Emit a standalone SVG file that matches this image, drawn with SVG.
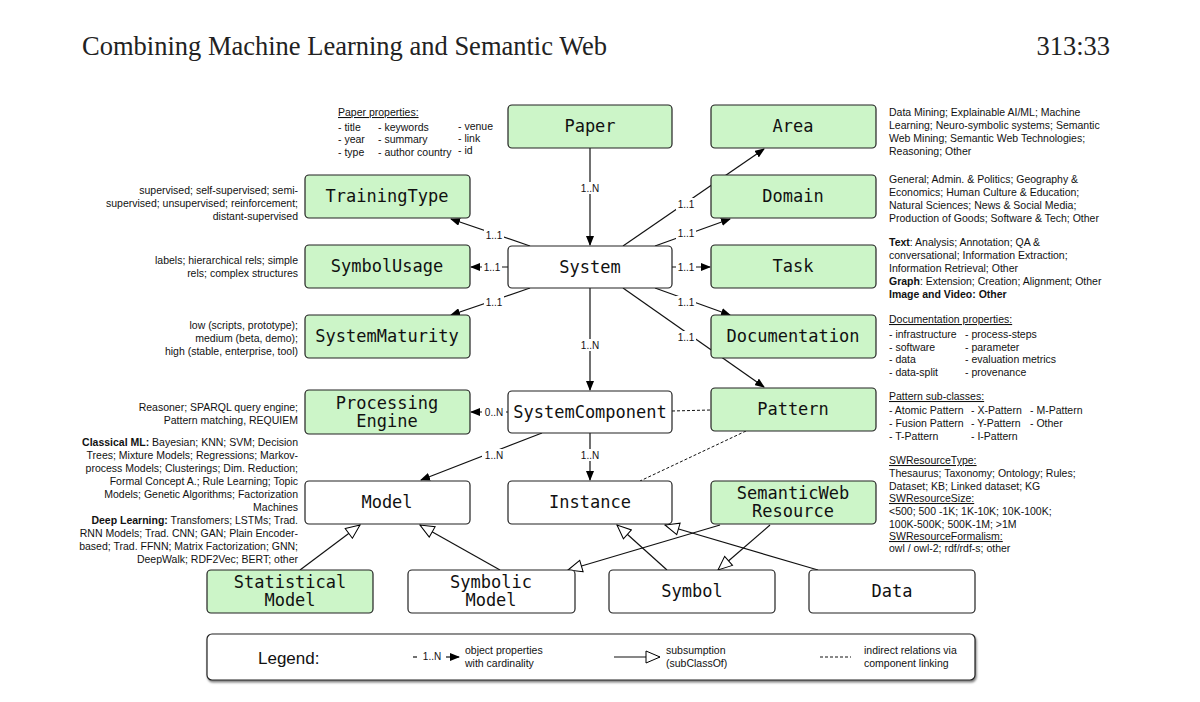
<svg xmlns="http://www.w3.org/2000/svg" width="1200" height="702" viewBox="0 0 1200 702">
<defs>
<marker id="a" markerWidth="10" markerHeight="8" refX="9" refY="4" orient="auto" markerUnits="userSpaceOnUse"><path d="M0,0 L10,4 L0,8 Z" fill="#000"/></marker>
<marker id="h" markerWidth="16" markerHeight="14" refX="15" refY="7" orient="auto" markerUnits="userSpaceOnUse"><path d="M1,1 L15,7 L1,13 Z" fill="#fff" stroke="#000" stroke-width="1"/></marker>
<filter id="sh" x="-5%" y="-20%" width="110%" height="150%"><feDropShadow dx="1" dy="2" stdDeviation="1.2" flood-opacity="0.5"/></filter>
</defs>
<style>
.g{fill:#ccf5c8;stroke:#222;stroke-width:1.2}
.w{fill:#fff;stroke:#222;stroke-width:1.2}
.n{font-family:"DejaVu Sans Mono",monospace;font-size:17px;fill:#111;text-anchor:middle}
.t{font-family:"Liberation Sans",Arial,sans-serif;font-size:10.5px;fill:#111}
.r{text-anchor:end}
.l{font-family:"Liberation Sans",Arial,sans-serif;font-size:10px;fill:#111;text-anchor:middle}
.c{stroke:#111;stroke-width:1.2;fill:none}
.d{stroke:#111;stroke-width:1;fill:none;stroke-dasharray:3,2}
.lb{fill:#fff}
</style>
<rect width="1200" height="702" fill="#fff"/>
<text x="82" y="55" font-family="Liberation Serif,serif" font-size="26.5" fill="#222">Combining Machine Learning and Semantic Web</text>
<text x="1110" y="55" font-family="Liberation Serif,serif" font-size="26.5" fill="#222" text-anchor="end">313:33</text>

<g id="connectors">
<line class="c" x1="590" y1="148" x2="590" y2="245" marker-end="url(#a)"/>
<line class="c" x1="623" y1="246" x2="764" y2="149" marker-end="url(#a)"/>
<line class="c" x1="655" y1="246" x2="730" y2="219" marker-end="url(#a)"/>
<line class="c" x1="672" y1="267" x2="710" y2="267" marker-end="url(#a)"/>
<line class="c" x1="655" y1="288" x2="730" y2="315" marker-end="url(#a)"/>
<line class="c" x1="623" y1="288" x2="764" y2="387" marker-end="url(#a)"/>
<line class="c" x1="530" y1="246" x2="451" y2="219" marker-end="url(#a)"/>
<line class="c" x1="508" y1="267" x2="471" y2="267" marker-end="url(#a)"/>
<line class="c" x1="530" y1="288" x2="451" y2="315" marker-end="url(#a)"/>
<line class="c" x1="590" y1="288" x2="590" y2="390" marker-end="url(#a)"/>
<line class="c" x1="508" y1="412" x2="471" y2="412" marker-end="url(#a)"/>
<line class="c" x1="542" y1="433" x2="421" y2="480" marker-end="url(#a)"/>
<line class="c" x1="590" y1="433" x2="590" y2="480" marker-end="url(#a)"/>
<line class="d" x1="672" y1="411" x2="711" y2="410"/>
<line class="d" x1="746" y1="431" x2="640" y2="481"/>
<line class="c" x1="300" y1="570" x2="360" y2="525" marker-end="url(#h)"/>
<line class="c" x1="500" y1="570" x2="420" y2="525" marker-end="url(#h)"/>
<line class="c" x1="667" y1="570" x2="617" y2="525" marker-end="url(#h)"/>
<line class="c" x1="818" y1="570" x2="665" y2="525" marker-end="url(#h)"/>
<line class="c" x1="720" y1="525" x2="568" y2="570" marker-end="url(#h)"/>
<line class="c" x1="770" y1="525" x2="718" y2="570" marker-end="url(#h)"/>
<g>
<rect class="lb" x="578" y="182" width="24" height="12"/><text class="l" x="590" y="192">1..N</text>
<rect class="lb" x="676" y="198" width="20" height="12"/><text class="l" x="686" y="208">1..1</text>
<rect class="lb" x="676" y="227" width="20" height="12"/><text class="l" x="686" y="237">1..1</text>
<rect class="lb" x="676" y="261" width="20" height="12"/><text class="l" x="686" y="271">1..1</text>
<rect class="lb" x="676" y="296" width="20" height="12"/><text class="l" x="686" y="306">1..1</text>
<rect class="lb" x="676" y="331" width="20" height="12"/><text class="l" x="686" y="341">1..1</text>
<rect class="lb" x="484" y="229" width="20" height="12"/><text class="l" x="494" y="239">1..1</text>
<rect class="lb" x="482" y="261" width="20" height="12"/><text class="l" x="492" y="271">1..1</text>
<rect class="lb" x="484" y="296" width="20" height="12"/><text class="l" x="494" y="306">1..1</text>
<rect class="lb" x="578" y="339" width="24" height="12"/><text class="l" x="590" y="349">1..N</text>
<rect class="lb" x="482" y="406" width="24" height="12"/><text class="l" x="494" y="416">0..N</text>
<rect class="lb" x="482" y="449" width="24" height="12"/><text class="l" x="494" y="459">1..N</text>
<rect class="lb" x="578" y="449" width="24" height="12"/><text class="l" x="590" y="459">1..N</text>
</g>
</g>

<g id="Paper"><rect class="g" x="508" y="105" width="164" height="43" rx="4"/><text class="n" x="590" y="132">Paper</text></g>
<g id="Area"><rect class="g" x="711" y="105" width="165" height="43" rx="4"/><text class="n" x="793" y="132">Area</text></g>
<g id="TrainingType"><rect class="g" x="305" y="175" width="165" height="43" rx="4"/><text class="n" x="387" y="202">TrainingType</text></g>
<g id="Domain"><rect class="g" x="711" y="175" width="165" height="43" rx="4"/><text class="n" x="793" y="202">Domain</text></g>
<g id="SymbolUsage"><rect class="g" x="305" y="245" width="165" height="43" rx="4"/><text class="n" x="387" y="272">SymbolUsage</text></g>
<g id="System"><rect class="w" x="508" y="246" width="164" height="42" rx="4"/><text class="n" x="590" y="273">System</text></g>
<g id="Task"><rect class="g" x="711" y="245" width="165" height="43" rx="4"/><text class="n" x="793" y="272">Task</text></g>
<g id="SystemMaturity"><rect class="g" x="305" y="315" width="165" height="43" rx="4"/><text class="n" x="387" y="342">SystemMaturity</text></g>
<g id="Documentation"><rect class="g" x="711" y="315" width="165" height="43" rx="4"/><text class="n" x="793" y="342">Documentation</text></g>
<g id="ProcessingEngine"><rect class="g" x="305" y="390" width="165" height="44" rx="4"/><text class="n" x="387" y="409">Processing</text><text class="n" x="387" y="427">Engine</text></g>
<g id="SystemComponent"><rect class="w" x="508" y="391" width="164" height="42" rx="4"/><text class="n" x="590" y="418">SystemComponent</text></g>
<g id="Pattern"><rect class="g" x="711" y="388" width="165" height="43" rx="4"/><text class="n" x="793" y="415">Pattern</text></g>
<g id="Model"><rect class="w" x="305" y="481" width="165" height="43" rx="4"/><text class="n" x="387" y="508">Model</text></g>
<g id="Instance"><rect class="w" x="508" y="481" width="164" height="43" rx="4"/><text class="n" x="590" y="508">Instance</text></g>
<g id="SemanticWebResource"><rect class="g" x="711" y="481" width="165" height="43" rx="4"/><text class="n" x="793" y="499">SemanticWeb</text><text class="n" x="793" y="517">Resource</text></g>
<g id="StatisticalModel"><rect class="g" x="207" y="570" width="166" height="43" rx="4"/><text class="n" x="290" y="588">Statistical</text><text class="n" x="290" y="606">Model</text></g>
<g id="SymbolicModel"><rect class="w" x="408" y="570" width="167" height="43" rx="4"/><text class="n" x="491" y="588">Symbolic</text><text class="n" x="491" y="606">Model</text></g>
<g id="Symbol"><rect class="w" x="609" y="570" width="166" height="43" rx="4"/><text class="n" x="692" y="597">Symbol</text></g>
<g id="Data"><rect class="w" x="809" y="570" width="166" height="43" rx="4"/><text class="n" x="892" y="597">Data</text></g>

<g id="annotations">
<text class="t" x="338" y="116" text-decoration="underline">Paper properties:</text>
<text class="t" x="338" y="131">- title</text><text class="t" x="378" y="131">- keywords</text><text class="t" x="458" y="130">- venue</text>
<text class="t" x="338" y="143">- year</text><text class="t" x="378" y="143">- summary</text><text class="t" x="458" y="142">- link</text>
<text class="t" x="338" y="156">- type</text><text class="t" x="378" y="156">- author country</text><text class="t" x="458" y="154">- id</text>
<text class="t r" x="298" y="194">supervised; self-supervised; semi-</text>
<text class="t r" x="298" y="207">supervised; unsupervised; reinforcement;</text>
<text class="t r" x="298" y="220">distant-supervised</text>
<text class="t r" x="298" y="264">labels; hierarchical rels; simple</text>
<text class="t r" x="298" y="277">rels; complex structures</text>
<text class="t r" x="298" y="329">low (scripts, prototype);</text>
<text class="t r" x="298" y="342">medium (beta, demo);</text>
<text class="t r" x="298" y="355">high (stable, enterprise, tool)</text>
<text class="t r" x="298" y="411">Reasoner; SPARQL query engine;</text>
<text class="t r" x="298" y="424">Pattern matching, REQUIEM</text>
<text class="t r" x="298" y="446"><tspan font-weight="bold">Classical ML:</tspan> Bayesian; KNN; SVM; Decision</text>
<text class="t r" x="298" y="459">Trees; Mixture Models; Regressions; Markov-</text>
<text class="t r" x="298" y="472">process Models; Clusterings; Dim. Reduction;</text>
<text class="t r" x="298" y="485">Formal Concept A.; Rule Learning; Topic</text>
<text class="t r" x="298" y="498">Models; Genetic Algorithms; Factorization</text>
<text class="t r" x="298" y="511">Machines</text>
<text class="t r" x="298" y="524"><tspan font-weight="bold">Deep Learning:</tspan> Transfomers; LSTMs; Trad.</text>
<text class="t r" x="298" y="537">RNN Models; Trad. CNN; GAN; Plain Encoder-</text>
<text class="t r" x="298" y="550">based; Trad. FFNN; Matrix Factorization; GNN;</text>
<text class="t r" x="298" y="563">DeepWalk; RDF2Vec;   BERT; other</text>
<text class="t" x="889" y="116">Data Mining; Explainable AI/ML; Machine</text>
<text class="t" x="889" y="129">Learning; Neuro-symbolic systems; Semantic</text>
<text class="t" x="889" y="142">Web Mining; Semantic Web Technologies;</text>
<text class="t" x="889" y="155">Reasoning; Other</text>
<text class="t" x="889" y="183">General; Admin. &amp; Politics; Geography &amp;</text>
<text class="t" x="889" y="196">Economics; Human Culture &amp; Education;</text>
<text class="t" x="889" y="209">Natural Sciences; News &amp; Social Media;</text>
<text class="t" x="889" y="222">Production of Goods; Software &amp; Tech; Other</text>
<text class="t" x="889" y="246"><tspan font-weight="bold">Text</tspan>: Analysis; Annotation; QA &amp;</text>
<text class="t" x="889" y="259">conversational; Information Extraction;</text>
<text class="t" x="889" y="272">Information Retrieval; Other</text>
<text class="t" x="889" y="285"><tspan font-weight="bold">Graph</tspan>: Extension; Creation; Alignment; Other</text>
<text class="t" x="889" y="298" font-weight="bold">Image and Video: Other</text>
<text class="t" x="889" y="323" text-decoration="underline">Documentation properties:</text>
<text class="t" x="889" y="338">- infrastructure</text><text class="t" x="965" y="338">- process-steps</text>
<text class="t" x="889" y="351">- software</text><text class="t" x="965" y="351">- parameter</text>
<text class="t" x="889" y="363">- data</text><text class="t" x="965" y="363">- evaluation metrics</text>
<text class="t" x="889" y="376">- data-split</text><text class="t" x="965" y="376">- provenance</text>
<text class="t" x="889" y="400" text-decoration="underline">Pattern sub-classes:</text>
<text class="t" x="889" y="414">- Atomic Pattern</text><text class="t" x="971" y="414">- X-Pattern</text><text class="t" x="1030" y="414">- M-Pattern</text>
<text class="t" x="889" y="427">- Fusion Pattern</text><text class="t" x="971" y="427">- Y-Pattern</text><text class="t" x="1030" y="427">- Other</text>
<text class="t" x="889" y="440">- T-Pattern</text><text class="t" x="971" y="440">- I-Pattern</text>
<text class="t" x="889" y="464" text-decoration="underline">SWResourceType:</text>
<text class="t" x="889" y="477">Thesaurus; Taxonomy; Ontology; Rules;</text>
<text class="t" x="889" y="490">Dataset; KB; Linked dataset; KG</text>
<text class="t" x="889" y="502" text-decoration="underline">SWResourceSize:</text>
<text class="t" x="889" y="515">&lt;500; 500 -1K; 1K-10K; 10K-100K;</text>
<text class="t" x="889" y="528">100K-500K; 500K-1M; &gt;1M</text>
<text class="t" x="889" y="540" text-decoration="underline">SWResourceFormalism:</text>
<text class="t" x="889" y="552">owl / owl-2; rdf/rdf-s; other</text>
</g>

<g id="legend">
<rect x="207" y="634" width="768" height="46" rx="5" fill="#fff" stroke="#222" stroke-width="1.2" filter="url(#sh)"/>
<text x="258" y="664" font-family="Liberation Sans,Arial,sans-serif" font-size="17" fill="#111">Legend:</text>
<line x1="413" y1="657" x2="417" y2="657" stroke="#111" stroke-width="1.2"/>
<text class="l" x="432" y="660" font-size="9">1..N</text>
<line x1="446" y1="657" x2="459" y2="657" class="c" marker-end="url(#a)"/>
<text class="t" x="465" y="654" font-size="10">object properties</text>
<text class="t" x="465" y="667" font-size="10">with cardinality</text>
<line x1="614" y1="657" x2="660" y2="657" class="c" marker-end="url(#h)"/>
<text class="t" x="666" y="654" font-size="10">subsumption</text>
<text class="t" x="666" y="667" font-size="10">(subClassOf)</text>
<line x1="820" y1="657" x2="851" y2="657" class="d"/>
<text class="t" x="864" y="654" font-size="10">indirect relations via</text>
<text class="t" x="864" y="667" font-size="10">component linking</text>
</g>
</svg>
